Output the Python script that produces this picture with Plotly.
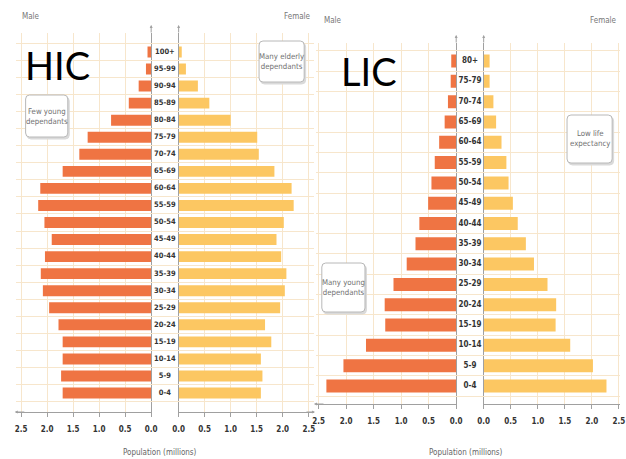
import plotly.graph_objects as go

W, H = 626, 459

# ---------------- data ----------------
hic_ages = ["0-4", "5-9", "10-14", "15-19", "20-24", "25-29", "30-34", "35-39",
            "40-44", "45-49", "50-54", "55-59", "60-64", "65-69", "70-74",
            "75-79", "80-84", "85-89", "90-94", "95-99", "100+"]
hic_male = [1.70, 1.73, 1.70, 1.70, 1.78, 1.96, 2.08, 2.12, 2.04, 1.91, 2.05,
            2.17, 2.13, 1.70, 1.38, 1.22, 0.77, 0.43, 0.24, 0.10, 0.07]
hic_female = [1.58, 1.61, 1.58, 1.78, 1.66, 1.95, 2.04, 2.07, 1.97, 1.88, 2.02,
              2.21, 2.17, 1.84, 1.54, 1.51, 1.00, 0.59, 0.37, 0.14, 0.06]

lic_ages = ["0-4", "5-9", "10-14", "15-19", "20-24", "25-29", "30-34", "35-39",
            "40-44", "45-49", "50-54", "55-59", "60-64", "65-69", "70-74",
            "75-79", "80+"]
lic_male = [2.36, 2.05, 1.64, 1.29, 1.30, 1.14, 0.90, 0.74, 0.67, 0.51, 0.45,
            0.39, 0.31, 0.21, 0.15, 0.10, 0.09]
lic_female = [2.27, 2.02, 1.60, 1.33, 1.34, 1.18, 0.93, 0.78, 0.63, 0.54, 0.46,
              0.42, 0.33, 0.23, 0.18, 0.11, 0.11]

tick_vals = [0, 0.5, 1.0, 1.5, 2.0, 2.5]
tick_text = ["0.0", "0.5", "1.0", "1.5", "2.0", "2.5"]

# ---------------- styles ----------------
MALE_C = "#ef7443"
FEMALE_C = "#fcc762"
GRID_C = "#f7e6cc"
AXIS_C = "#a0a0a0"
NARROW = "DejaVu Sans Condensed, Liberation Sans Narrow, sans-serif"
BIG = "Lato, Carlito, Calibri, sans-serif"


def px(x):
    return x / W


def py(y):
    return 1 - y / H


fig = go.Figure()

# HIC bars
fig.add_trace(go.Bar(x=hic_male, y=hic_ages, orientation="h", xaxis="x", yaxis="y",
                     marker=dict(color=MALE_C, line=dict(width=0)), hoverinfo="skip"))
fig.add_trace(go.Bar(x=hic_female, y=hic_ages, orientation="h", xaxis="x2", yaxis="y2",
                     marker=dict(color=FEMALE_C, line=dict(width=0)), hoverinfo="skip"))
fig.add_trace(go.Scatter(x=[0.5] * len(hic_ages), y=hic_ages, mode="text", text=hic_ages,
                         textfont=dict(family=NARROW, size=7.5, color="#333333", weight="bold"),
                         xaxis="x3", yaxis="y", hoverinfo="skip"))
# LIC bars
fig.add_trace(go.Bar(x=lic_male, y=lic_ages, orientation="h", xaxis="x4", yaxis="y3",
                     marker=dict(color=MALE_C, line=dict(width=0)), hoverinfo="skip"))
fig.add_trace(go.Bar(x=lic_female, y=lic_ages, orientation="h", xaxis="x5", yaxis="y4",
                     marker=dict(color=FEMALE_C, line=dict(width=0)), hoverinfo="skip"))
fig.add_trace(go.Scatter(x=[0.5] * len(lic_ages), y=lic_ages, mode="text", text=lic_ages,
                         textfont=dict(family=NARROW, size=8, color="#333333", weight="bold"),
                         xaxis="x6", yaxis="y3", hoverinfo="skip"))

xcommon = dict(tickvals=tick_vals, ticktext=tick_text, showgrid=True, gridcolor=GRID_C,
               gridwidth=1, showline=True, linecolor=AXIS_C, linewidth=1, ticks="outside",
               ticklen=4, tickcolor=AXIS_C, zeroline=False, fixedrange=True,
               tickfont=dict(family=NARROW, size=8, color="#333333", weight="bold"),
               ticklabelstandoff=5)
gapx = dict(range=[0, 1], visible=False, showgrid=False, zeroline=False, fixedrange=True)

ycommon = dict(type="category", tickson="boundaries", showgrid=True, gridcolor=GRID_C,
               gridwidth=1, showticklabels=False, showline=True, linecolor=AXIS_C,
               linewidth=1, ticks="outside", ticklen=3, tickcolor=AXIS_C, fixedrange=True,
               zeroline=False)

hic_ydom = [py(412), py(33)]
lic_ydom = [py(404), py(43)]

fig.update_layout(
    width=W, height=H, margin=dict(l=0, r=0, t=0, b=0),
    paper_bgcolor="white", plot_bgcolor="white", showlegend=False,
    bargap=0.36, barmode="overlay",
    xaxis=dict(domain=[px(10), px(148)], range=[2.6, 0], anchor="y", **xcommon),
    xaxis2=dict(domain=[px(176), px(314)], range=[0, 2.6], anchor="y2", **xcommon),
    xaxis3=dict(domain=[px(148), px(176)], anchor="y", **gapx),
    xaxis4=dict(domain=[px(316), px(459)], range=[2.55, 0], anchor="y3", **xcommon),
    xaxis5=dict(domain=[px(487), 1.0], range=[0, 2.52], anchor="y4", **xcommon),
    xaxis6=dict(domain=[px(459), px(487)], anchor="y3", **gapx),
    yaxis=dict(domain=hic_ydom, anchor="x", side="right", categoryarray=hic_ages,
               categoryorder="array", **ycommon),
    yaxis2=dict(domain=hic_ydom, anchor="x2", side="left", matches="y", **ycommon),
    yaxis3=dict(domain=lic_ydom, anchor="x4", side="right", categoryarray=lic_ages,
                categoryorder="array", **ycommon),
    yaxis4=dict(domain=lic_ydom, anchor="x5", side="left", matches="y3", **ycommon),
)


def text(x, y, s, size=8, color="#777777", family=NARROW, xanchor="left", weight="normal"):
    fig.add_annotation(x=px(x), y=py(y), xref="paper", yref="paper", text=s, showarrow=False,
                       xanchor=xanchor, yanchor="middle",
                       font=dict(family=family, size=size, color=color, weight=weight))


def arrow(x0, y0, x1, y1):
    fig.add_annotation(x=px(x1), y=py(y1), xref="paper", yref="paper", text="",
                       showarrow=True, ax=x0 - x1, ay=y0 - y1, arrowhead=2, arrowsize=0.6,
                       arrowwidth=1, arrowcolor=AXIS_C)


def rbox(x0, y0, x1, y1, r=4, fill="white", line="#b8b8b8"):
    X0, X1 = px(x0), px(x1)
    Y0, Y1 = py(y0), py(y1)
    rx, ry = r / W, r / H
    path = (f"M {X0+rx},{Y0} L {X1-rx},{Y0} Q {X1},{Y0} {X1},{Y0-ry} "
            f"L {X1},{Y1+ry} Q {X1},{Y1} {X1-rx},{Y1} L {X0+rx},{Y1} "
            f"Q {X0},{Y1} {X0},{Y1+ry} L {X0},{Y0-ry} Q {X0},{Y0} {X0+rx},{Y0} Z")
    fig.add_shape(type="path", path=path, xref="paper", yref="paper",
                  fillcolor=fill, line=dict(color=line, width=1), layer="above")


def callout(x0, y0, x1, y1, lines):
    rbox(x0 + 1.5, y0 + 2, x1 + 1.5, y1 + 2, fill="#dadada", line="#dadada")
    rbox(x0, y0, x1, y1)
    fig.add_annotation(x=px((x0 + x1) / 2), y=py((y0 + y1) / 2), xref="paper", yref="paper",
                       text="<br>".join(lines), showarrow=False, align="center",
                       xanchor="center", yanchor="middle",
                       font=dict(family=NARROW, size=7.8, color="#707070"))


# axis arrows
arrow(20, 412, 9, 412)
arrow(305, 412, 315, 412)
arrow(148, 34, 148, 25)
arrow(176, 34, 176, 25)
arrow(459, 44, 459, 35)
arrow(487, 44, 487, 35)
arrow(325, 404, 314, 404)

# headers
text(14, 16, "Male")
text(313, 17, "Female", xanchor="right")
text(322, 21, "Male")
text(625, 21, "Female", xanchor="right")
text(157, 452, "Population (millions)", color="#666666", xanchor="center")
text(469, 452, "Population (millions)", color="#666666", xanchor="center")

# big labels
text(53, 65, "HIC", size=38, color="#000000", family=BIG, xanchor="center")
text(370, 71, "LIC", size=38, color="#000000", family=BIG, xanchor="center")

# callouts
callout(20, 95, 63, 137, ["Few young", "dependants"])
callout(258, 41, 304, 82, ["Many elderly", "dependants"])
callout(572, 115, 618, 163, ["Low life", "expectancy"])
callout(322, 263, 366, 312, ["Many young", "dependants"])

fig.write_html("out.html", config={"displayModeBar": False},
               post_script="document.body.style.margin='0';document.body.style.overflow='hidden';")
